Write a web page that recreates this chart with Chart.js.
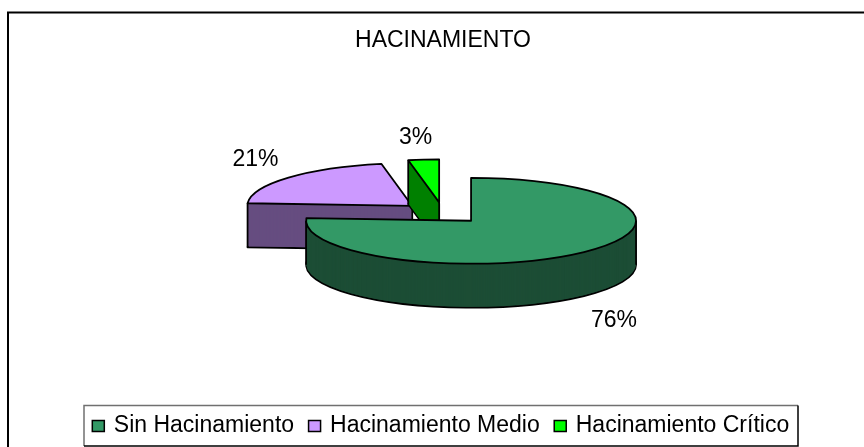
<!DOCTYPE html>
<html>
<head>
<meta charset="utf-8">
<style>html,body{margin:0;padding:0;background:#fff}canvas{display:block}</style>
<script src="https://cdn.jsdelivr.net/npm/chart.js@4"></script>
</head>
<body>
<div style="width:864px;height:447px"><canvas id="c" width="864" height="447"></canvas></div>
<script>
const categories = ['Sin Hacinamiento', 'Hacinamiento Medio', 'Hacinamiento Crítico'];
const values = [76, 21, 3];
const topColors = ['#339966', '#CC99FF', '#00FF00'];
const wallColors = ['#1C4D35', '#664D80', '#008000'];

const FONT = 'Arial, "Liberation Sans", sans-serif';
const SQUASH = 0.26, DEPTH = 44, EXPLODE = 41, CY = 213, EDGE = 1.8;
const drawOrder = [1, 2, 0];
const labelNudge = [[30, 69], [-33, -18], [-8, -22]];

function arcOptions(bg, bw) {
  return {backgroundColor: bg, borderColor: '#000', borderWidth: bw, borderAlign: 'center',
    borderJoinStyle: 'round', borderRadius: 0, offset: 0, spacing: 0, circular: true,
    borderDash: [], borderDashOffset: 0};
}
function stamp(ctx, el, bg, bw, dy, base) {
  const clone = Object.create(el);
  clone.options = arcOptions(bg, bw);
  ctx.save();
  base();
  ctx.translate(0, dy / SQUASH);
  el.draw.call(clone, ctx);
  ctx.restore();
}
const pie3d = {
  id: 'pie3d',
  afterLayout(chart) {
    chart.legend.left -= 1.5;
    chart.legend.right -= 1.5;
  },
  beforeDatasetsDraw(chart) {
    const ctx = chart.ctx, arcs = chart.getDatasetMeta(0).data;
    const nativeStroke = ctx.stroke;
    ctx.stroke = function () {
      ctx.save(); ctx.setTransform(1, 0, 0, 1, 0, 0);
      nativeStroke.call(ctx); ctx.restore();
    };
    drawOrder.forEach(i => {
      const el = arcs[i];
      const mid = (el.startAngle + el.endAngle) / 2;
      const ex = Math.cos(mid) * EXPLODE, ey = Math.sin(mid) * EXPLODE;
      const base = () => {
        ctx.translate(el.x, CY);
        ctx.scale(1, SQUASH);
        ctx.translate(-el.x, -el.y);
        ctx.translate(ex, ey);
      };
      stamp(ctx, el, wallColors[i], EDGE, DEPTH, base);
      for (let d = DEPTH - 1; d >= 1; d--) stamp(ctx, el, wallColors[i], 0, d, base);
      stamp(ctx, el, topColors[i], EDGE, 0, base);

      // silhouette verticals
      const R = el.outerRadius, ax = el.x + ex, ay = CY + ey * SQUASH;
      const at = a => [ax + Math.cos(a) * R, ay + Math.sin(a) * R * SQUASH];
      const pts = [[ax, ay], at(el.startAngle), at(el.endAngle)];
      [0, Math.PI, 2 * Math.PI, -Math.PI].forEach(a => {
        if (a > el.startAngle && a < el.endAngle) pts.push(at(a));
      });
      const lo = pts.reduce((p, q) => q[0] < p[0] ? q : p);
      const hi = pts.reduce((p, q) => q[0] > p[0] ? q : p);
      ctx.save();
      ctx.strokeStyle = '#000'; ctx.lineWidth = EDGE;
      [lo, hi].forEach(p => {
        ctx.beginPath(); ctx.moveTo(p[0], p[1]); ctx.lineTo(p[0], p[1] + DEPTH); nativeStroke.call(ctx);
      });
      ctx.restore();
    });
    delete ctx.stroke;
    // percent labels
    const total = values.reduce((a, b) => a + b, 0);
    ctx.save();
    ctx.fillStyle = '#000'; ctx.font = '23px ' + FONT;
    ctx.textAlign = 'center'; ctx.textBaseline = 'middle';
    arcs.forEach((el, i) => {
      const mid = (el.startAngle + el.endAngle) / 2;
      const x = el.x + Math.cos(mid) * (EXPLODE + el.outerRadius) + labelNudge[i][0];
      const y = CY + Math.sin(mid) * (EXPLODE + el.outerRadius) * SQUASH + labelNudge[i][1];
      ctx.fillText(Math.round(values[i] / total * 100) + '%', x, y);
    });
    ctx.restore();
    return false;
  },
  afterDraw(chart) {
    const ctx = chart.ctx, hb = chart.legend.legendHitBoxes;
    ctx.save();
    // outer frame
    ctx.strokeStyle = '#000'; ctx.lineWidth = 2;
    ctx.beginPath(); ctx.moveTo(8, 447); ctx.lineTo(8, 12.5); ctx.lineTo(864, 12.5); ctx.stroke();
    // legend frame: grey top and left, black right and bottom
    ctx.lineWidth = 1.5; ctx.strokeStyle = '#707070';
    ctx.beginPath(); ctx.moveTo(84, 446); ctx.lineTo(84, 405.5); ctx.lineTo(798, 405.5); ctx.stroke();
    ctx.strokeStyle = '#000';
    ctx.beginPath(); ctx.moveTo(798, 405.5); ctx.lineTo(798, 446); ctx.lineTo(84, 446); ctx.stroke();
    // legend swatches
    hb.forEach((h, i) => {
      ctx.fillStyle = topColors[i]; ctx.lineWidth = 1.5;
      ctx.fillRect(h.left - 1.5, 420.5, 12, 11);
      ctx.strokeRect(h.left - 1.5, 420.5, 12, 11);
    });
    ctx.restore();
  }
};

new Chart(document.getElementById('c'), {
  type: 'pie',
  plugins: [pie3d],
  data: {
    labels: categories,
    datasets: [{data: values, backgroundColor: topColors, borderColor: '#000', borderWidth: 0, radius: 165}]
  },
  options: {
    responsive: false,
    animation: false,
    events: [],
    layout: {padding: {left: 22, bottom: 0}},
    plugins: {
      tooltip: {enabled: false},
      title: {display: true, text: 'HACINAMIENTO', color: '#000',
        font: {family: FONT, size: 23, weight: 'normal'}, padding: {top: 27, bottom: 0}},
      legend: {position: 'bottom',
        labels: {color: '#000', font: {family: FONT, size: 23}, boxWidth: 8.5, boxHeight: 12, padding: 16,
          generateLabels: () => categories.map((text, index) => ({
            text, index, fillStyle: 'transparent', strokeStyle: 'transparent', lineWidth: 0, hidden: false
          }))}}
    }
  }
});
</script>
</body>
</html>
